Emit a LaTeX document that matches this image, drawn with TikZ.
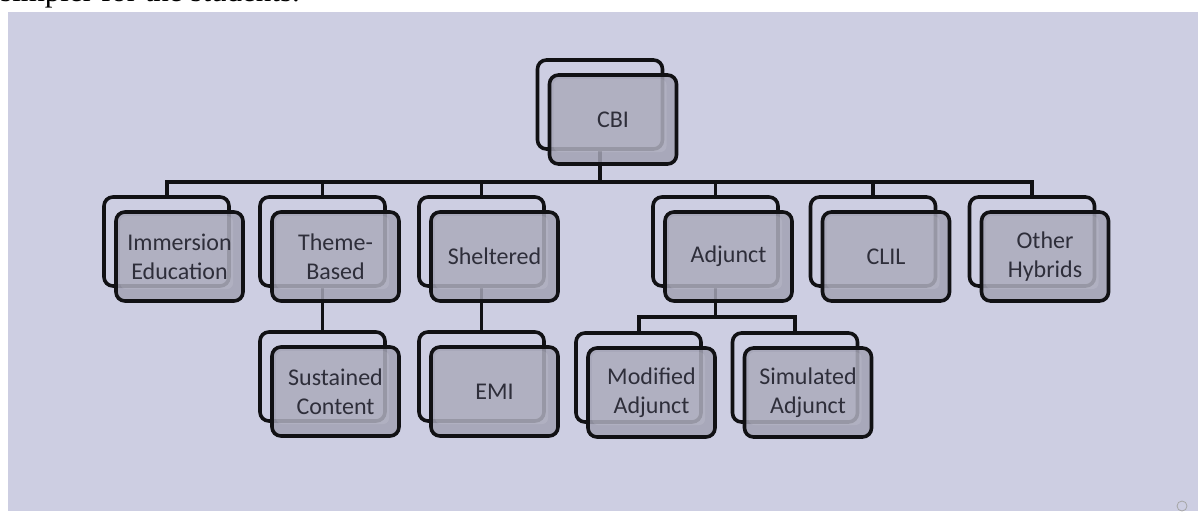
\documentclass[tikz,border=0pt]{standalone}
\usepackage{fontspec}
\setmainfont{Carlito}
\newfontfamily\serifpara{Liberation Serif}
\definecolor{bg}{HTML}{CDCEE2}
\definecolor{frontfill}{HTML}{A2A2B3}
\definecolor{txt}{HTML}{2E2E3A}
\definecolor{edge}{HTML}{111114}
\begin{document}
\begin{tikzpicture}[x=1pt,y=-1pt,
 backbox/.style={draw=edge, line width=3.6pt, rounded corners=9pt, fill=bg,
   minimum width=125pt, minimum height=89pt, inner sep=0pt},
 frontbox/.style={draw=edge, line width=3.6pt, rounded corners=9pt, fill=frontfill,
   fill opacity=0.85, text opacity=1, minimum width=127pt, minimum height=89pt,
   inner sep=0pt, align=center, text=txt, font=\fontsize{24}{29}\selectfont,
   path picture={\fill[white, opacity=0.10, rounded corners=6pt]
     ([shift={(4,4)}]path picture bounding box.north west) rectangle
     ([shift={(-10,-12)}]path picture bounding box.south east);}},
 link/.style={draw=edge, line width=3.2pt, line join=miter},
 busline/.style={draw=edge, line width=4pt, line join=miter}]
\useasboundingbox (0,0) rectangle (1198,511);
% paragraph text cut at top
\node[anchor=base west, inner sep=0pt, font=\serifpara\fontsize{31}{36}\selectfont] (para) at (0,1.5) {simpler for the students.};
% panel
\fill[bg] (8,12) rectangle (1198,511);
\draw[gray!70, line width=0.8pt] (1182,506) circle (5pt);
% back boxes
\node[backbox] (cbiB) at (600,104.5) {};
\node[backbox] (imB) at (166.5,241.5) {};
\node[backbox] (thB) at (322.5,241.5) {};
\node[backbox] (shB) at (481.5,241.5) {};
\node[backbox] (adB) at (715.5,241.5) {};
\node[backbox] (clB) at (873,241.5) {};
\node[backbox] (otB) at (1032,241.5) {};
\node[backbox] (suB) at (322.5,376.5) {};
\node[backbox] (emB) at (481.5,376.5) {};
\node[backbox] (moB) at (638.5,377.5) {};
\node[backbox] (siB) at (795,377.5) {};
% connectors
\coordinate (busTop) at (0,182);
\coordinate (busAd) at (0,317);
\draw[link] (cbiB.south) -- (cbiB.south |- busTop);
\draw[busline] (imB.north) -- (imB.north |- busTop) -- (otB.north |- busTop) -- (otB.north);
\foreach \n in {thB,shB,adB,clB}
  \draw[link] (\n.north |- busTop) -- (\n.north);
\draw[link] (thB.south) -- (suB.north);
\draw[link] (shB.south) -- (emB.north);
\draw[link] (adB.south) -- (adB.south |- busAd);
\draw[busline] (moB.north) -- (moB.north |- busAd) -- (siB.north |- busAd) -- (siB.north);
% front boxes
\node[frontbox] (cbiF) at ([shift={(13,15)}]cbiB.center) {CBI};
\node[frontbox] (imF) at ([shift={(13,15)}]imB.center) {Immersion\\Education};
\node[frontbox] (thF) at ([shift={(13,15)}]thB.center) {Theme-\\Based};
\node[frontbox] (shF) at ([shift={(13,15)}]shB.center) {Sheltered};
\node[frontbox] (adF) at ([shift={(13,15)}]adB.center) {Adjunct};
\node[frontbox] (clF) at ([shift={(13,15)}]clB.center) {CLIL};
\node[frontbox] (otF) at ([shift={(13,15)}]otB.center) {Other\\Hybrids};
\node[frontbox] (suF) at ([shift={(13,15)}]suB.center) {Sustained\\Content};
\node[frontbox] (emF) at ([shift={(13,15)}]emB.center) {EMI};
\node[frontbox] (moF) at ([shift={(13,15)}]moB.center) {Modified\\Adjunct};
\node[frontbox] (siF) at ([shift={(13,15)}]siB.center) {Simulated\\Adjunct};
\end{tikzpicture}
\end{document}
